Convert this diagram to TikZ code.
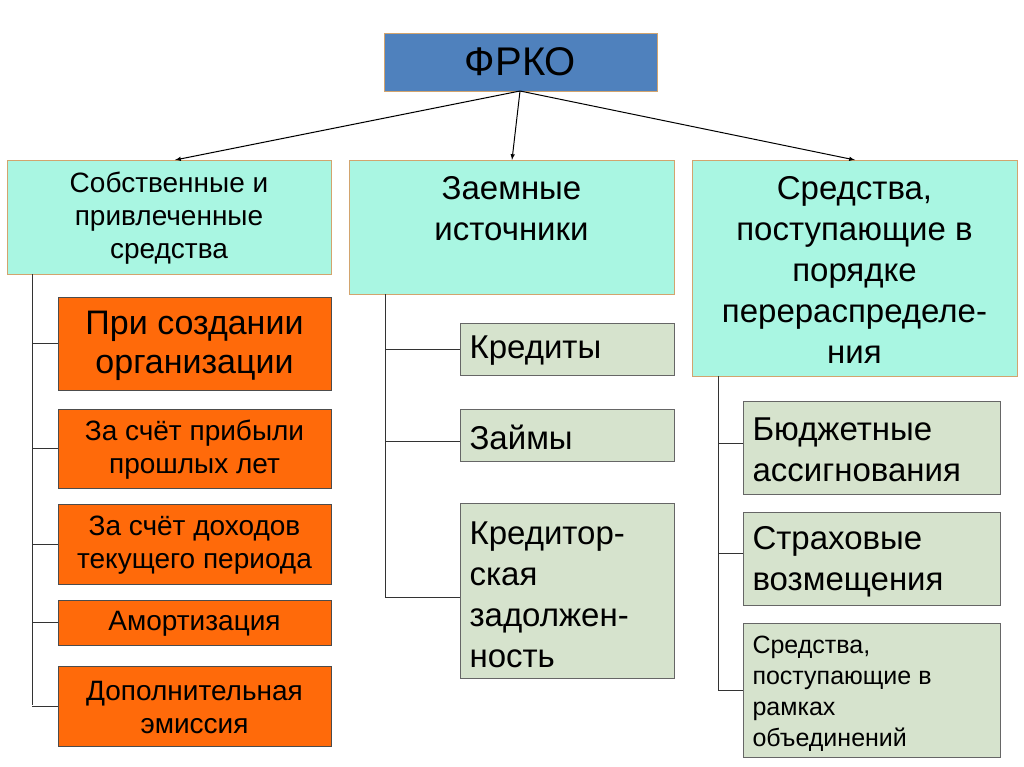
\documentclass[tikz,border=0pt]{standalone}
\usepackage{fontspec}
\setmainfont{Liberation Sans}
\begin{document}
\begin{tikzpicture}[x=1pt,y=-1pt,
 bx/.style={draw, line width=0.8pt},
 cy/.style={bx, fill=cyanf, draw=tanb},
 og/.style={bx, fill=orangef, draw=black!70},
 gr/.style={bx, fill=greenf, draw=black!60},
 ln/.style={line width=0.7pt, draw=black!80},
 ar/.style={line width=1pt, -latex},
 fs/.style 2 args={font=\fontsize{#1}{#2}\selectfont}]
\definecolor{cyanf}{HTML}{A9F6E2}
\definecolor{tanb}{HTML}{D2A46E}
\definecolor{orangef}{HTML}{FF6A0A}
\definecolor{greenf}{HTML}{D6E3CD}
\definecolor{bluef}{HTML}{4F81BD}
\useasboundingbox (0,0) rectangle (1024,767);
\fill[white] (0,0) rectangle (1024,767);
% top
\draw[line width=0.8pt, fill=bluef, draw=tanb] (384,33) rectangle (657,91);
\node[fs={40}{44}] (top) at (520.5,62) {ФРКО};
\coordinate (ts) at (520,91);
% level 1
\draw[cy] (7,160) rectangle (331,274);
\node[align=center,fs={28}{33}] (b1) at (169,218) {Собственные и\\привлеченные\\средства};
\draw[cy] (349,160) rectangle (674,294);
\node[align=center,fs={33}{41}] (b2) at (511.5,209) {Заемные\\источники};
\draw[cy] (692,160) rectangle (1017,376);
\node[align=center,fs={33}{41}] (b3) at (854.5,270) {Средства,\\поступающие в\\порядке\\перераспределе-\\ния};
\coordinate (e1) at (175,160);\coordinate (e2) at (512,160);\coordinate (e3) at (855,160);
\draw[ar] (ts) -- (e1); \draw[ar] (ts) -- (e2); \draw[ar] (ts) -- (e3);
% left column
\draw[ln] (32,274) -- (32,705);
\foreach \ya/\yb in {297/390,409/488,504/584,600/645,666/746}{
 \draw[og] (58,\ya) rectangle (331,\yb);
 \draw[ln] (32,{(\ya+\yb)/2}) -- (58,{(\ya+\yb)/2});}
\node[align=center,fs={34}{39}] (o1) at (194.5,346) {При создании\\организации};
\node[align=center,fs={28}{33}] (o2) at (194.5,450) {За счёт прибыли\\прошлых лет};
\node[align=center,fs={28}{33}] (o3) at (194.5,545) {За счёт доходов\\текущего периода};
\node[align=center,fs={28}{33}] (o4) at (194.5,624) {Амортизация};
\node[align=center,fs={28}{33}] (o5) at (194.5,707) {Дополнительная\\эмиссия};
% middle column
\draw[ln] (385,294) -- (385,597);
\draw[gr] (460,323) rectangle (674,375); \draw[ln] (385,349) -- (460,349);
\draw[gr] (460,409) rectangle (674,461); \draw[ln] (385,441) -- (460,441);
\draw[gr] (460,503) rectangle (674,678); \draw[ln] (385,597) -- (460,597);
\node[anchor=west,fs={33}{41}] (g1) at (466,351) {Кредиты};
\node[anchor=west,fs={33}{41}] (g2) at (466,437) {Займы};
\node[anchor=west,align=left,fs={33}{41}] (g3) at (466,595) {Кредитор-\\ская\\задолжен-\\ность};
% right column
\draw[ln] (718,376) -- (718,690);
\draw[gr] (743,401) rectangle (1000,494); \draw[ln] (718,443) -- (743,443);
\draw[gr] (743,512) rectangle (1000,605); \draw[ln] (718,553) -- (743,553);
\draw[gr] (743,623) rectangle (1000,757); \draw[ln] (718,690) -- (743,690);
\node[anchor=west,align=left,fs={33}{41}] (r1) at (749,450) {Бюджетные\\ассигнования};
\node[anchor=west,align=left,fs={33}{41}] (r2) at (749,562) {Страховые\\возмещения};
\node[anchor=west,align=left,fs={25}{31}] (r3) at (749,694) {Средства,\\поступающие в\\рамках\\объединений};
\end{tikzpicture}
\end{document}
